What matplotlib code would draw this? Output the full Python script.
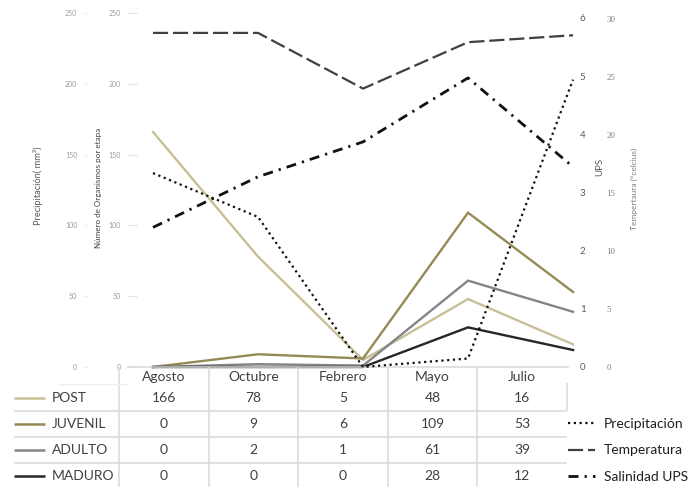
import matplotlib
matplotlib.use("Agg")
import matplotlib.pyplot as plt

plt.rcParams['font.family'] = ['Lato', 'DejaVu Sans']

# ---------------- data ----------------
months = ["Agosto", "Octubre", "Febrero", "Mayo", "Julio"]
stages = ["POST", "JUVENIL", "ADULTO", "MADURO"]
post = [166, 78, 5, 48, 16]
juvenil = [0, 9, 6, 109, 53]
adulto = [0, 2, 1, 61, 39]
maduro = [0, 0, 0, 28, 12]
precipitacion = [137, 106, 0, 6, 203]
temperatura = [28.8, 28.8, 24.0, 28.0, 28.6]
salinidad = [2.4, 3.27, 3.87, 4.97, 3.44]

org_ticks = [0, 50, 100, 150, 200, 250]
ups_ticks = [0, 1, 2, 3, 4, 5, 6]
temp_ticks = [0, 5, 10, 15, 20, 25, 30]

stage_values = [post, juvenil, adulto, maduro]
stage_colors = ["#c9bf96", "#958a55", "#858585", "#262626"]

# ---------------- layout helpers ----------------
W, H = 690, 487
def fx(px):
    return px / W
def fy(py):
    return 1 - py / H

fig = plt.figure(figsize=(6.9, 4.87), dpi=100)
fig.patch.set_facecolor("white")

L, R, T, B = 128, 568, 6, 367
ax = fig.add_axes([fx(L), fy(B), fx(R) - fx(L), fy(T) - fy(B)])
ax.set_xlim(-0.238, 3.952)
ax.set_ylim(0, 255)
for s in ["top", "right", "left"]:
    ax.spines[s].set_visible(False)
ax.spines["bottom"].set_color("#d9d9d9")
ax.spines["bottom"].set_linewidth(1.1)
ax.set_xticks([])
ax.set_yticks(org_ticks)
ax.tick_params(axis="y", direction="in", length=6.5, width=0.8, color="#e3e3e3",
               labelsize=5, labelcolor="#9a9a9a", pad=5)
ax.patch.set_alpha(0)

x = list(range(len(months)))
stage_lines = []
for vals, col, name in zip(stage_values, stage_colors, stages):
    ln, = ax.plot(x, vals, color=col, lw=1.7, clip_on=False, label=name,
                  solid_joinstyle="miter")
    stage_lines.append(ln)

# precipitation axis (far left)
axp = ax.twinx()
axp.set_ylim(0, 255)
axp.yaxis.set_ticks_position("left")
axp.spines["left"].set_position(("outward", 29.5))
for s in axp.spines.values():
    s.set_visible(False)
axp.set_yticks(org_ticks)
axp.tick_params(axis="y", direction="out", length=3, width=0.8, color="#eeeeee",
                labelsize=5, labelcolor="#9a9a9a", pad=4)
lp, = axp.plot(x, precipitacion, color="#111111", lw=1.6, dashes=(1, 1.6),
               clip_on=False)

# salinity axis (UPS)
axu = ax.twinx()
axu.set_ylim(0, 6.206)
for s in axu.spines.values():
    s.set_visible(False)
axu.set_yticks(ups_ticks)
axu.tick_params(axis="y", length=0, labelsize=7, labelcolor="#595959", pad=8.6)
ls, = axu.plot(x, salinidad, color="#111111", lw=2.0, dashes=(3.6, 2.2, 0.8, 2.2),
               clip_on=False)

# temperature axis
axt = ax.twinx()
axt.set_ylim(0, 31.12)
for s in axt.spines.values():
    s.set_visible(False)
axt.set_yticks(temp_ticks)
axt.tick_params(axis="y", length=0, labelsize=6.5, labelcolor="#808080", pad=27.5)
for lab in axt.get_yticklabels():
    lab.set_family(["Liberation Serif", "DejaVu Serif"])
lt, = axt.plot(x, temperatura, color="#404040", lw=1.6, dashes=(6.8, 2.2),
               clip_on=False)

# axis titles
fig.text(fx(38), fy(186), "Precipitación( mm³)", rotation=90, ha="center", va="center",
         fontsize=6.7, color="#595959")
fig.text(fx(98), fy(188), "Número de Organismos por etapa", rotation=90, ha="center",
         va="center", fontsize=5.8, color="#404040")
fig.text(fx(600), fy(167), "UPS", rotation=90, ha="center", va="center",
         fontsize=7, color="#595959")
fig.text(fx(634), fy(189), "Tempertaura (°celcius)", rotation=90, ha="center",
         va="center", fontsize=6, color="#7f7f7f")

# ---------------- data table ----------------
axtab = fig.add_axes([fx(119), 0, fx(567) - fx(119), fy(367)])
axtab.set_xlim(0, 5)
axtab.set_ylim(3.442, -1.173)
axtab.axis("off")
grid_c = "#d9d9d9"
axtab.hlines([0.5, 1.5, 2.5], -1.17, 5, color=grid_c, lw=1.1, clip_on=False)
axtab.vlines([0, 1, 2, 3, 4], -1.173, 3.442, color=grid_c, lw=1.1, clip_on=False)
axtab.vlines([5], -0.56, 0.5, color=grid_c, lw=1.1, clip_on=False)
axtab.hlines([-0.52], -0.68, 0.09, color="#eeeeee", lw=1.0, clip_on=False)

for i, m in enumerate(months):
    axtab.text(i + 0.5, -0.8, m, ha="center", va="center", fontsize=10,
               color="#404040")
for r, (name, vals, col) in enumerate(zip(stages, stage_values, stage_colors)):
    axtab.plot([-1.17, -0.826], [r, r], color=col, lw=1.8, clip_on=False,
               solid_capstyle="butt")
    axtab.text(-0.75, r, name, ha="left", va="center", fontsize=10, color="#404040")
    for i, v in enumerate(vals):
        axtab.text(i + 0.5, r, str(v), ha="center", va="center", fontsize=10,
                   color="#404040")

# right legend for environmental series
fig.legend([lp, lt, ls], ["Precipitación", "Temperatura", "Salinidad UPS"],
           loc="upper left", bbox_to_anchor=(fx(568), fy(418)), frameon=False,
           fontsize=10, handlelength=1.95, handletextpad=0.65, labelspacing=1.04,
           borderpad=0, borderaxespad=0, labelcolor="#1f1f1f")

fig.savefig("out.png", dpi=100, facecolor="white")
